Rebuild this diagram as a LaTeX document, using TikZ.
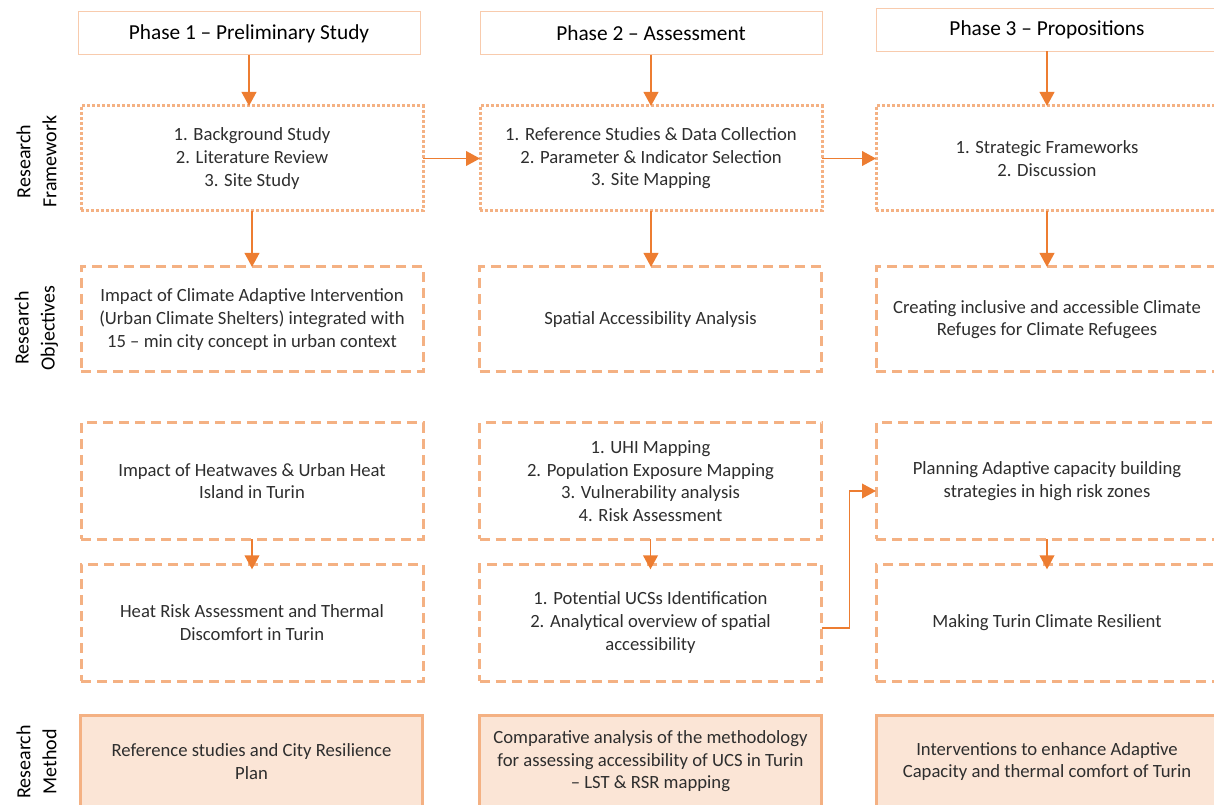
\documentclass[tikz,border=0pt]{standalone}
\usepackage{fontspec}
\setmainfont{Carlito}
\usepackage{xcolor}
\usetikzlibrary{arrows.meta, calc, positioning}
\definecolor{accent}{HTML}{ED7D31}
\definecolor{lightacc}{HTML}{F4B183}
\definecolor{paleacc}{HTML}{FBE5D6}
\definecolor{edgeacc}{HTML}{F8CBAD}
\definecolor{txtgray}{HTML}{2E2E2E}

\begin{document}
\begin{tikzpicture}[x=0.75pt, y=-0.75pt,
    every node/.style={inner sep=0pt, outer sep=0pt, align=center, text=txtgray,
        font=\fontsize{14pt}{16.9pt}\selectfont},
    phasebox/.style={draw=edgeacc, line width=0.75pt, minimum width=256.5pt, minimum height=32.25pt,
        text=black, font=\fontsize{16pt}{18pt}\selectfont},
    frambox/.style={draw=lightacc, line width=2.25pt, dash pattern=on 2.25pt off 1.5pt,
        minimum width=256.5pt, minimum height=78.75pt},
    dashbox/.style={draw=lightacc, line width=2.25pt, dash pattern=on 7.5pt off 4.5pt,
        minimum width=256.5pt, minimum height=#1},
    dashbox/.default=78.75pt,
    methbox/.style={draw=lightacc, fill=paleacc, line width=2.25pt,
        minimum width=256.5pt, minimum height=69.75pt},
    sidelabel/.style={rotate=90, text=black, font=\fontsize{15pt}{19.5pt}\selectfont},
    flow/.style={-{Triangle[length=10.5pt, width=11pt]}, draw=accent, line width=1.4pt}
]
    \useasboundingbox (0,0) rectangle (1214,805);

    % Phasen
    \node[phasebox] (ph1) at (249,33.5) {Phase 1 – Preliminary Study};
    \node[phasebox] (ph2) at (651,33.5) {Phase 2 – Assessment};
    \node[phasebox] (ph3) at (1047,30) {Phase 3 – Propositions};

    % Research Framework
    \node[frambox] (fw1) at (252,158.5) {1. Background Study\\2. Literature Review\\3. Site Study};
    \node[frambox] (fw2) at (651,158.5) {1. Reference Studies \& Data Collection\\2. Parameter \& Indicator Selection\\3. Site Mapping};
    \node[frambox] (fw3) at (1047,158.5) {1. Strategic Frameworks\\2. Discussion};

    % Research Objectives
    \node[dashbox] (ob1) at (252,319.5) {Impact of Climate Adaptive Intervention\\(Urban Climate Shelters) integrated with\\15 – min city concept in urban context};
    \node[dashbox] (ob2) at (650.5,319.5) {Spatial Accessibility Analysis};
    \node[dashbox] (ob3) at (1047,319.5) {Creating inclusive and accessible Climate\\Refuges for Climate Refugees};

    % Analyse
    \node[dashbox=87pt] (an1) at (252,481) {Impact of Heatwaves \& Urban Heat\\Island in Turin};
    \node[dashbox=87pt] (an2) at (650.5,481) {1. UHI Mapping\\2. Population Exposure Mapping\\3. Vulnerability analysis\\4. Risk Assessment};
    \node[dashbox=87pt] (an3) at (1047,481) {Planning Adaptive capacity building\\strategies in high risk zones};

    % Ergebnisse
    \node[dashbox=87.75pt] (rs1) at (252,622.5) {Heat Risk Assessment and Thermal\\Discomfort in Turin};
    \node[dashbox=87.75pt] (rs2) at (650.5,622.5) {1. Potential UCSs Identification\\2. Analytical overview of spatial\\accessibility};
    \node[dashbox=87.75pt] (rs3) at (1047,622.5) {Making Turin Climate Resilient};

    % Research Method
    \node[methbox] (me1) at (251.5,761.5) {Reference studies and City Resilience\\Plan};
    \node[methbox] (me2) at (650.5,761.5) {Comparative analysis of the methodology\\for assessing accessibility of UCS in Turin\\– LST \& RSR mapping};
    \node[methbox] (me3) at (1047,761.5) {Interventions to enhance Adaptive\\Capacity and thermal comfort of Turin};

    % Seitenbeschriftung
    \node[sidelabel] (lfw) at (36.5,161.5) {Research\\Framework};
    \node[sidelabel] (lob) at (36.5,328) {Research\\Objectives};
    \node[sidelabel] (lme) at (36.5,762) {Research\\Method};

    % Pfeile
    \draw[flow] (ph1.south) -- (ph1.south |- fw1.north);
    \draw[flow] (ph2.south) -- (ph2.south |- fw2.north);
    \draw[flow] (ph3.south) -- (ph3.south |- fw3.north);
    \draw[flow] (fw1.south) -- (fw1.south |- ob1.north);
    \draw[flow] (fw2.south) -- (fw2.south |- ob2.north);
    \draw[flow] (fw3.south) -- (fw3.south |- ob3.north);
    \draw[flow] (fw1.east) -- (fw2.west);
    \draw[flow] (fw2.east) -- (fw3.west);
    \draw[flow] (an1.south) -- ([yshift=-4pt]rs1.north);
    \draw[flow] (an2.south) -- ([yshift=-4pt]rs2.north);
    \draw[flow] (an3.south) -- ([yshift=-4pt]rs3.north);
    \draw[flow, line width=1.1pt] ([yshift=-4pt]rs2.east) -- ++(28,0) |- ([yshift=-7.5pt]an3.west);
\end{tikzpicture}
\end{document}
